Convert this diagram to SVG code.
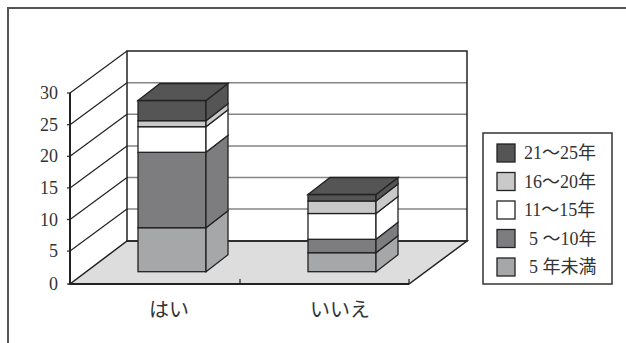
<svg xmlns="http://www.w3.org/2000/svg" width="626" height="343" viewBox="0 0 626 343">
<style>
text{font-family:'Liberation Serif','DejaVu Serif','Noto Sans CJK JP',serif;fill:#333;}
.ax{font-size:18px;text-anchor:end;}
.lg{font-size:18px;}
.cat{font-size:20px;text-anchor:middle;}
.s{stroke:#222;stroke-width:1.3;}
.c1{fill:#555555;}
.c2{fill:#c9c9c9;}
.c3{fill:#ffffff;}
.c4{fill:#7d7d7f;}
.c5{fill:#a6a7a9;}
.grid{stroke:#858585;stroke-width:1.5;}
.wall{fill:none;stroke:#222;stroke-width:1.5;}
</style>
<rect width="626" height="343" fill="#fff"/>
<path d="M8 343 V8 H626" fill="none" stroke="#555" stroke-width="2"/>
<g id="axes">
<polygon points="70,284 409,284 467,241 127,241" fill="#dddddd" stroke="#222" stroke-width="1.5"/>
<g class="grid">
<line x1="127" y1="82.7" x2="467" y2="82.7"/>
<line x1="127" y1="114.3" x2="467" y2="114.3"/>
<line x1="127" y1="145.9" x2="467" y2="145.9"/>
<line x1="127" y1="177.5" x2="467" y2="177.5"/>
<line x1="127" y1="209.1" x2="467" y2="209.1"/>
</g>
<rect x="127" y="51" width="340" height="190" class="wall"/>
<g stroke="#222" stroke-width="1.2">
<line x1="70" y1="93" x2="127" y2="51"/>
<line x1="70" y1="124.7" x2="127" y2="82.7"/>
<line x1="70" y1="156.3" x2="127" y2="114.3"/>
<line x1="70" y1="187.9" x2="127" y2="145.9"/>
<line x1="70" y1="219.5" x2="127" y2="177.5"/>
<line x1="70" y1="251.1" x2="127" y2="209.1"/>
<line x1="67" y1="93" x2="70" y2="93"/>
<line x1="67" y1="124.7" x2="70" y2="124.7"/>
<line x1="67" y1="156.3" x2="70" y2="156.3"/>
<line x1="67" y1="187.9" x2="70" y2="187.9"/>
<line x1="67" y1="219.5" x2="70" y2="219.5"/>
<line x1="67" y1="251.1" x2="70" y2="251.1"/>
<line x1="67" y1="284" x2="70" y2="284"/>
<line x1="240" y1="279" x2="240" y2="284"/>
<line x1="409" y1="279" x2="409" y2="284"/>
</g>
<line x1="70" y1="93" x2="70" y2="284" stroke="#222" stroke-width="2"/>
<line x1="70" y1="284" x2="409" y2="284" stroke="#222" stroke-width="2"/>
<g class="ax">
<text x="58" y="99">30</text>
<text x="58" y="130.7">25</text>
<text x="58" y="162.3">20</text>
<text x="58" y="193.9">15</text>
<text x="58" y="225.5">10</text>
<text x="58" y="257.1">5</text>
<text x="58" y="290">0</text>
</g>
<text class="cat" x="169" y="317">はい</text>
<text class="cat" x="340" y="317">いいえ</text>
</g>
<g id="bar-hai" class="s">
<rect class="c5" x="138" y="227.7" width="68" height="44"/>
<polygon class="c5" points="206,271.7 228,254.7 228,210.7 206,227.7"/>
<rect class="c4" x="138" y="152.3" width="68" height="75.4"/>
<polygon class="c4" points="206,227.7 228,210.7 228,135.3 206,152.3"/>
<rect class="c3" x="138" y="126.7" width="68" height="25.6"/>
<polygon class="c3" points="206,152.3 228,135.3 228,109.7 206,126.7"/>
<rect class="c2" x="138" y="120.7" width="68" height="6"/>
<polygon class="c2" points="206,126.7 228,109.7 228,103.7 206,120.7"/>
<rect class="c1" x="138" y="100.5" width="68" height="20.2"/>
<polygon class="c1" points="206,120.7 228,103.7 228,83.5 206,100.5"/>
<polygon class="c1" points="138,100.5 160,83.5 228,83.5 206,100.5"/>
</g>
<g id="bar-iie" class="s">
<rect class="c5" x="308" y="252.7" width="68" height="19"/>
<polygon class="c5" points="376,271.7 398,254.7 398,235.7 376,252.7"/>
<rect class="c4" x="308" y="239.3" width="68" height="13.4"/>
<polygon class="c4" points="376,252.7 398,235.7 398,222.3 376,239.3"/>
<rect class="c3" x="308" y="213.5" width="68" height="25.8"/>
<polygon class="c3" points="376,239.3 398,222.3 398,196.5 376,213.5"/>
<rect class="c2" x="308" y="201" width="68" height="12.5"/>
<polygon class="c2" points="376,213.5 398,196.5 398,184 376,201"/>
<rect class="c1" x="308" y="194.5" width="68" height="6.5"/>
<polygon class="c1" points="376,201 398,184 398,177.5 376,194.5"/>
<polygon class="c1" points="308,194.5 330,177.5 398,177.5 376,194.5"/>
</g>
<g id="legend">
<rect x="483" y="133" width="129" height="151" fill="#fff" stroke="#333" stroke-width="1.5"/>
<g class="s">
<rect class="c1" x="497" y="144" width="18" height="18"/>
<rect class="c2" x="497" y="172.5" width="18" height="18"/>
<rect class="c3" x="497" y="201" width="18" height="18"/>
<rect class="c4" x="497" y="229.5" width="18" height="18"/>
<rect class="c5" x="497" y="258" width="18" height="18"/>
</g>
<g class="lg">
<text x="524" y="159">21～25年</text>
<text x="524" y="187.5">16～20年</text>
<text x="524" y="216">11～15年</text>
<text x="529" y="244.5">5 ～10年</text>
<text x="529" y="273">5 年未満</text>
</g>
</g>
</svg>
